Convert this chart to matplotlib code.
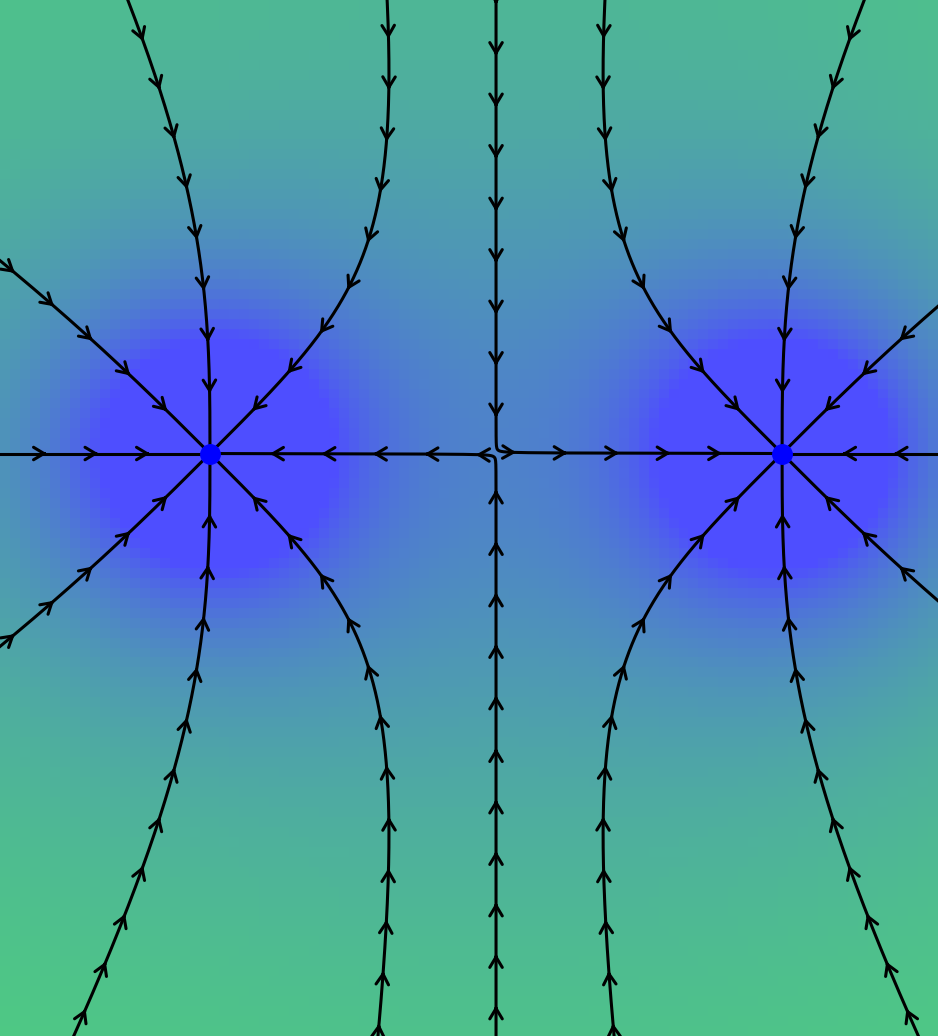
import numpy as np
import matplotlib
matplotlib.use("Agg")
import matplotlib.pyplot as plt
from matplotlib.colors import LinearSegmentedColormap

# two equal negative point charges
charge_x = [-1.0, 1.0]
charge_y = [0.0, 0.0]
charge_q = [-1.0, -1.0]

# field lines leave each charge at these angles (degrees)
start_angles = [0, 45, 90, 135, 180, 225, 270, 315]
# tiny nudges so the lines that hit the saddle point turn off it
nudge = {(0, 0): -2e-3, (1, 180): -2e-3}

xlim = (-1.734, 1.545)
ylim = (-2.037, 1.586)
px_per_unit = 286.0

color_far = "#4fcb82"
color_near = "#4e4eff"
v_lo, v_hi = 0.7, 2.95

arrow_first_px = 61
arrow_step_px = 51.5


def field(x, y):
    ex, ey = 0.0 * x, 0.0 * y
    for cx, cy, q in zip(charge_x, charge_y, charge_q):
        dx, dy = x - cx, y - cy
        r3 = (dx * dx + dy * dy) ** 1.5
        ex = ex - q * dx / r3   # traced outward, i.e. along -E
        ey = ey - q * dy / r3
    return ex, ey


def potential(x, y):
    v = 0.0 * x
    for cx, cy, q in zip(charge_x, charge_y, charge_q):
        v = v - q / np.hypot(x - cx, y - cy)
    return v


def direction(p):
    ex, ey = field(p[0], p[1])
    n = np.hypot(ex, ey) + 1e-12
    return np.array([ex / n, ey / n])


def trace(i, ang_deg):
    a = np.radians(ang_deg) + nudge.get((i, ang_deg), 0.0)
    p = np.array([charge_x[i], charge_y[i]]) + 0.01 * np.array([np.cos(a), np.sin(a)])
    pts = [np.array([charge_x[i], charge_y[i]]), p.copy()]
    ds = 0.004
    for _ in range(4000):
        k1 = direction(p)
        k2 = direction(p + 0.5 * ds * k1)
        k3 = direction(p + 0.5 * ds * k2)
        k4 = direction(p + ds * k3)
        p = p + ds * (k1 + 2 * k2 + 2 * k3 + k4) / 6
        pts.append(p.copy())
        if p[0] < xlim[0] - 0.1 or p[0] > xlim[1] + 0.1 or p[1] < ylim[0] - 0.1 or p[1] > ylim[1] + 0.1:
            break
    return np.array(pts)


fig = plt.figure(figsize=(9.38, 10.36), dpi=100)
ax = fig.add_axes([0, 0, 1, 1])

gx = np.linspace(xlim[0], xlim[1], 94)
gy = np.linspace(ylim[0], ylim[1], 104)
GX, GY = np.meshgrid(gx, gy)
V = potential(GX, GY)
cmap = LinearSegmentedColormap.from_list("gb", [color_far, color_near])
ax.imshow(V, extent=(xlim[0], xlim[1], ylim[0], ylim[1]), origin="lower",
          cmap=cmap, vmin=v_lo, vmax=v_hi, interpolation="nearest", aspect="auto")

for i in range(len(charge_x)):
    for ang in start_angles:
        pts = trace(i, ang)
        ax.plot(pts[:, 0], pts[:, 1], color="black", lw=2.2, solid_capstyle="round")
        seg = np.hypot(np.diff(pts[:, 0]), np.diff(pts[:, 1]))
        s = np.concatenate([[0], np.cumsum(seg)]) * px_per_unit
        targets = np.arange(arrow_first_px, s[-1], arrow_step_px)
        for t in targets:
            j = np.searchsorted(s, t)
            if j < 1 or j >= len(pts):
                continue
            tip = pts[j - 1]
            back = pts[min(j + 2, len(pts) - 1)]
            ax.annotate("", xy=tip, xytext=back,
                        arrowprops=dict(arrowstyle="->,head_length=0.75,head_width=0.45",
                                        color="black", lw=2.2, shrinkA=0, shrinkB=0))

ax.plot(charge_x, charge_y, "o", color="#0000ff", markersize=14, zorder=5)

ax.set_xlim(*xlim)
ax.set_ylim(*ylim)
ax.axis("off")
fig.savefig("out.png", dpi=100)
